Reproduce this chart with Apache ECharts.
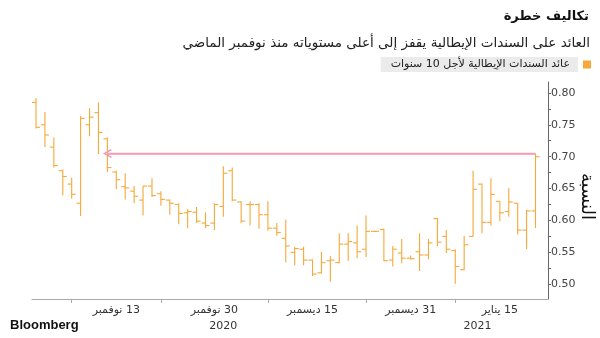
<!DOCTYPE html>
<html>
<head>
<meta charset="utf-8">
<script src="https://cdn.jsdelivr.net/npm/echarts@6/dist/echarts.min.js"></script>
<style>html,body{margin:0;padding:0;background:#fff}#c{width:600px;height:338px}</style>
</head>
<body>
<div id="c"></div>
<script>
// ---- data ----
const dates = ['2020-11-02','2020-11-03','2020-11-04','2020-11-05','2020-11-06','2020-11-09','2020-11-10','2020-11-11','2020-11-12','2020-11-13',
'2020-11-16','2020-11-17','2020-11-18','2020-11-19','2020-11-20','2020-11-23','2020-11-24','2020-11-25','2020-11-26','2020-11-27',
'2020-11-30','2020-12-01','2020-12-02','2020-12-03','2020-12-04','2020-12-07','2020-12-08','2020-12-09','2020-12-10','2020-12-11',
'2020-12-14','2020-12-15','2020-12-16','2020-12-17','2020-12-18','2020-12-21','2020-12-22','2020-12-23','2020-12-24','2020-12-28',
'2020-12-29','2020-12-30','2020-12-31','2021-01-04','2021-01-05','2021-01-06','2021-01-07','2021-01-08','2021-01-11','2021-01-12',
'2021-01-13','2021-01-14','2021-01-15','2021-01-18','2021-01-19','2021-01-20','2021-01-21'];
const openV  = [0.785,0.750,0.715,0.678,0.657,0.627,0.750,0.769,0.728,0.676,
0.653,0.646,0.632,0.654,0.642,0.632,0.625,0.612,0.613,0.596,
0.596,0.622,0.678,0.629,0.625,0.625,0.609,0.588,0.572,0.550,
0.555,0.538,0.518,0.537,0.534,0.563,0.565,0.555,0.583,0.586,
0.538,0.549,0.541,0.551,0.546,0.603,0.575,0.553,0.523,0.575,
0.657,0.597,0.630,0.614,0.627,0.585,0.615];
const highV  = [0.792,0.770,0.730,0.680,0.667,0.764,0.776,0.785,0.730,0.678,
0.674,0.654,0.654,0.666,0.646,0.633,0.627,0.618,0.621,0.613,
0.627,0.685,0.683,0.630,0.630,0.627,0.630,0.596,0.601,0.559,
0.559,0.539,0.551,0.544,0.580,0.580,0.592,0.608,0.584,0.587,
0.560,0.571,0.545,0.580,0.571,0.604,0.585,0.555,0.576,0.678,
0.658,0.666,0.630,0.651,0.627,0.617,0.704];
const lowV   = [0.744,0.715,0.683,0.639,0.634,0.607,0.732,0.704,0.676,0.649,
0.633,0.627,0.608,0.637,0.623,0.609,0.594,0.588,0.596,0.588,
0.585,0.606,0.630,0.596,0.592,0.587,0.584,0.576,0.534,0.530,
0.530,0.513,0.517,0.504,0.533,0.537,0.541,0.543,0.582,0.536,
0.528,0.533,0.539,0.521,0.539,0.560,0.549,0.501,0.522,0.575,
0.580,0.592,0.599,0.606,0.578,0.555,0.588];
const closeV = [0.746,0.734,0.686,0.669,0.641,0.760,0.762,0.738,0.683,0.664,
0.651,0.638,0.654,0.639,0.633,0.627,0.611,0.614,0.599,0.592,
0.625,0.674,0.632,0.599,0.625,0.609,0.588,0.581,0.560,0.556,
0.538,0.516,0.534,0.538,0.563,0.567,0.551,0.583,0.583,0.537,
0.555,0.541,0.540,0.546,0.565,0.566,0.555,0.528,0.562,0.649,
0.597,0.641,0.612,0.629,0.585,0.615,0.700];

const yLabelValues = [0.50,0.55,0.60,0.65,0.70,0.75,0.80];
const yTickValues = [0.500,0.525,0.550,0.575,0.600,0.625,0.650,0.675,0.700,0.725,0.750,0.775,0.800];
const xLabelDates = ['2020-11-13','2020-11-30','2020-12-15','2020-12-31','2021-01-15'];
const xLabelText  = ['13 نوفمبر','30 نوفمبر','15 ديسمبر','31 ديسمبر','15 يناير'];
const xTickDates  = ['2020-11-06','2020-11-20','2020-12-08','2020-12-23','2021-01-08'];
const years = ['2020','2021'];

const refLevel = 0.705;
const refFrom = '2020-11-12';
const refTo = '2021-01-21';

const titleText = 'تكاليف خطرة';
const subtitleText = 'العائد على السندات الإيطالية يقفز إلى أعلى مستوياته منذ نوفمبر الماضي';
const seriesName = 'عائد السندات الإيطالية لأجل 10 سنوات';
const yName = 'النسبة';

// ---- build ----
const AR = "'DejaVu Sans', sans-serif";
const RLM = '\u200F';
const idxOf = d => dates.indexOf(d);
const labelIdx = xLabelDates.map(idxOf);
const tickIdx = xTickDates.map(idxOf);
const yearCenters = years.map(y => {
  const ids = dates.map((d,i)=>d.startsWith(y)?i:-1).filter(i=>i>=0);
  return (ids[0] + ids[ids.length-1]) / 2;
});
const ohlc = dates.map((d,i)=>[i, openV[i], highV[i], lowV[i], closeV[i]]);
const BAR = '#f6a838';
const xMin = -0.45, xMax = 57.4;

const chart = echarts.init(document.getElementById('c'), null, {renderer:'canvas'});
chart.setOption({
  animation: false,
  backgroundColor: '#fff',
  title: [
    {text: titleText, right: 11, top: 10, padding: 0,
     textStyle: {fontFamily: AR, fontSize: 13, fontWeight: 'bold', color: '#111'}},
    {text: subtitleText, right: 10, top: 36, padding: 0,
     textStyle: {fontFamily: AR, fontSize: 13.5, fontWeight: 'normal', color: '#222'}},
    {text: 'Bloomberg', left: 10, top: 319, padding: 0,
     textStyle: {fontFamily: "'Liberation Sans', Arial, sans-serif", fontSize: 13, fontWeight: 'bold', color: '#111'}}
  ],
  legend: {
    data: [seriesName], right: 9, top: 57, align: 'right', padding: 0,
    icon: 'rect', itemWidth: 8, itemHeight: 8, selectedMode: false,
    textStyle: {fontFamily: AR, fontSize: 11, color: '#222', backgroundColor: '#ebebeb', padding: [2, 8, 2, 10]}
  },
  grid: {left: 32, right: 52, top: 82, bottom: 39, outerBoundsMode: 'none', containLabel: false},
  xAxis: [
    {type: 'value', min: xMin, max: xMax,
     axisLine: {show: true, onZero: false, lineStyle: {color: '#aaa', width: 1}},
     axisTick: {show: true, customValues: tickIdx, length: 4, lineStyle: {color: '#aaa'}},
     axisLabel: {customValues: labelIdx, margin: 6, fontFamily: AR, fontSize: 11, color: '#333',
       formatter: v => RLM + xLabelText[labelIdx.indexOf(Math.round(v))]},
     splitLine: {show: false}},
    {type: 'value', min: xMin, max: xMax, position: 'bottom', gridIndex: 0,
     axisLine: {show: false, onZero: false}, axisTick: {show: false},
     axisLabel: {customValues: yearCenters, margin: 22, fontFamily: AR, fontSize: 11, color: '#333',
       formatter: v => years[yearCenters.indexOf(v)]},
     splitLine: {show: false}}
  ],
  yAxis: {
    type: 'value', position: 'right', min: 0.477, max: 0.817,
    axisLine: {show: true, onZero: false, lineStyle: {color: '#666'}},
    axisTick: {show: true, customValues: yTickValues, length: 3, inside: false, lineStyle: {color: '#666'}},
    axisLabel: {customValues: yLabelValues, margin: 3, fontSize: 11, color: '#444',
      fontFamily: "'DejaVu Sans', sans-serif", formatter: v => v.toFixed(2)},
    splitLine: {show: false},
    name: yName, nameLocation: 'middle', nameGap: 30, nameRotate: -90, nameMoveOverlap: false,
    nameTextStyle: {fontFamily: AR, fontSize: 18, color: '#111', padding: [0, 0, 0, 12]}
  },
  series: [
    {
      name: seriesName, type: 'custom', xAxisIndex: 0,
      itemStyle: {color: BAR},
      encode: {x: 0, y: [1,2,3,4]},
      data: ohlc,
      renderItem: function(params, api) {
        const x = api.value(0);
        const pO = api.coord([x, api.value(1)]);
        const pH = api.coord([x, api.value(2)]);
        const pL = api.coord([x, api.value(3)]);
        const pC = api.coord([x, api.value(4)]);
        const t = 4;
        const st = {stroke: BAR, lineWidth: 1.1};
        return {type: 'group', children: [
          {type: 'line', shape: {x1: pH[0], y1: pH[1], x2: pL[0], y2: pL[1]}, style: st},
          {type: 'line', shape: {x1: pO[0]-t, y1: pO[1], x2: pO[0], y2: pO[1]}, style: st},
          {type: 'line', shape: {x1: pC[0], y1: pC[1], x2: pC[0]+t, y2: pC[1]}, style: st}
        ]};
      }
    },
    {
      name: 'ref', type: 'line', xAxisIndex: 0, silent: true,
      data: [[idxOf(refFrom), refLevel], [idxOf(refTo), refLevel]],
      showSymbol: false, symbol: 'none',
      lineStyle: {color: '#f59ab2', width: 1.5},
      markLine: {
        silent: true, animation: false,
        symbol: ['path://M5,0 L10,9 L8.6,10 L5,3.2 L1.4,10 L0,9 Z', 'none'],
        symbolSize: [9, 9],
        label: {show: false},
        lineStyle: {color: '#f59ab2', width: 1.5, type: 'solid'},
        data: [[{coord: [idxOf(refFrom), refLevel]}, {coord: [idxOf(refTo), refLevel]}]]
      }
    }
  ]
});
</script>
</body>
</html>
